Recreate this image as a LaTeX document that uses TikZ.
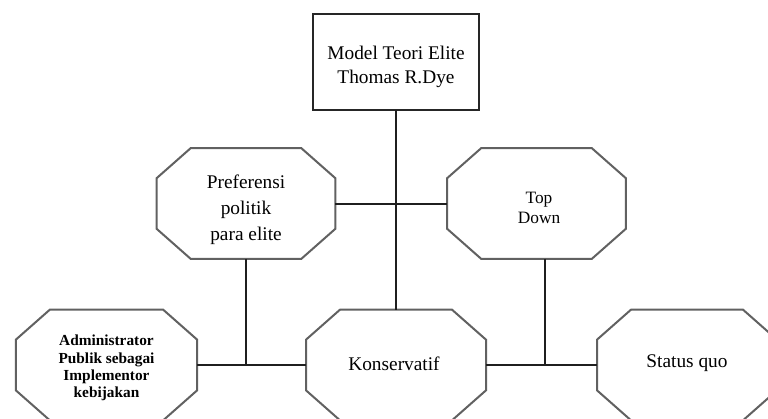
\documentclass[tikz,border=0pt]{standalone}
\usepackage{fontspec}
\setmainfont{Liberation Serif}
\usetikzlibrary{calc}

% octagon outline drawn round a named rectangular node
% #1 node name, #2 horizontal chamfer, #3 vertical chamfer
\newcommand\octframe[3]{%
  \draw[octline]
    ($(#1.north west)+(#2,0pt)$) -- ($(#1.north east)+(-#2,0pt)$)
    -- ($(#1.north east)+(0pt,-#3)$) -- ($(#1.south east)+(0pt,#3)$)
    -- ($(#1.south east)+(-#2,0pt)$) -- ($(#1.south west)+(#2,0pt)$)
    -- ($(#1.south west)+(0pt,#3)$) -- ($(#1.north west)+(0pt,-#3)$)
    -- cycle;}

\tikzset{
  octbox/.style={rectangle, draw=none, inner sep=0pt, outer sep=0pt,
    minimum width=134pt, minimum height=83pt, align=center,
    font=\fontsize{14.5}{19}\selectfont},
  octline/.style={draw=black!62, line width=1.5pt, line join=miter},
  titlebox/.style={rectangle, draw=black!85, line width=1.6pt, fill=white,
    minimum width=124.5pt, minimum height=72pt, inner sep=0pt, outer sep=0pt},
  lbl/.style={align=center, inner sep=0pt},
  link/.style={draw=black!88, line width=1.5pt}
}

\begin{document}
\begin{tikzpicture}[x=0.75pt, y=-0.75pt]
  \useasboundingbox (0,0) rectangle (768,418);
  \clip (0,0) rectangle (768,418);
  \fill[white] (0,0) rectangle (768,418);

  % title box
  \node[titlebox] (top) at (396,62) {};
  \node[lbl, font=\fontsize{14.5}{18}\selectfont] (toptext) at (396,67)
       {Model Teori Elite\\Thomas R.Dye};

  % upper row
  \node[octbox] (pref) at (246,203.5) {};
  \node[lbl, font=\fontsize{14.5}{19.5}\selectfont] (preftext) at (246,210)
       {Preferensi\\politik\\para elite};
  \node[octbox] (td) at (536.5,203.5) {};
  \node[lbl, font=\fontsize{13}{15}\selectfont] (tdtext) at (539,208) {Top\\Down};

  % lower row
  \node[octbox, minimum width=136pt] (admin) at (106.5,365) {};
  \node[lbl, font=\bfseries\fontsize{11.5}{13}\selectfont] (admintext) at (106.5,368)
       {Administrator\\Publik sebagai\\Implementor\\kebijakan};
  \node[octbox, minimum width=135pt] (kons) at (396,365) {};
  \node[lbl, font=\fontsize{14.5}{18}\selectfont] (konstext) at (394,364) {Konservatif};
  \node[octbox, minimum width=135pt] (status) at (687,365) {};
  \node[lbl, font=\fontsize{14.5}{18}\selectfont] (statustext) at (687,363) {Status quo};

  % outlines
  \octframe{pref}{25.5pt}{22.5pt}
  \octframe{td}{25.5pt}{22.5pt}
  \octframe{admin}{25.5pt}{22.5pt}
  \octframe{kons}{25.5pt}{22.5pt}
  \octframe{status}{25.5pt}{22.5pt}

  % connectors
  \draw[link] (top.south) -- (kons.north);
  \draw[link] (pref.east) -- (td.west);
  \draw[link] (admin.east) -- (kons.west);
  \draw[link] (kons.east) -- (status.west);
  \draw[link] (pref.south) -- (pref.south |- kons.west);
  \coordinate (tdfoot) at ([xshift=6pt]td.south);
  \draw[link] (tdfoot) -- (tdfoot |- kons.east);
\end{tikzpicture}
\end{document}
